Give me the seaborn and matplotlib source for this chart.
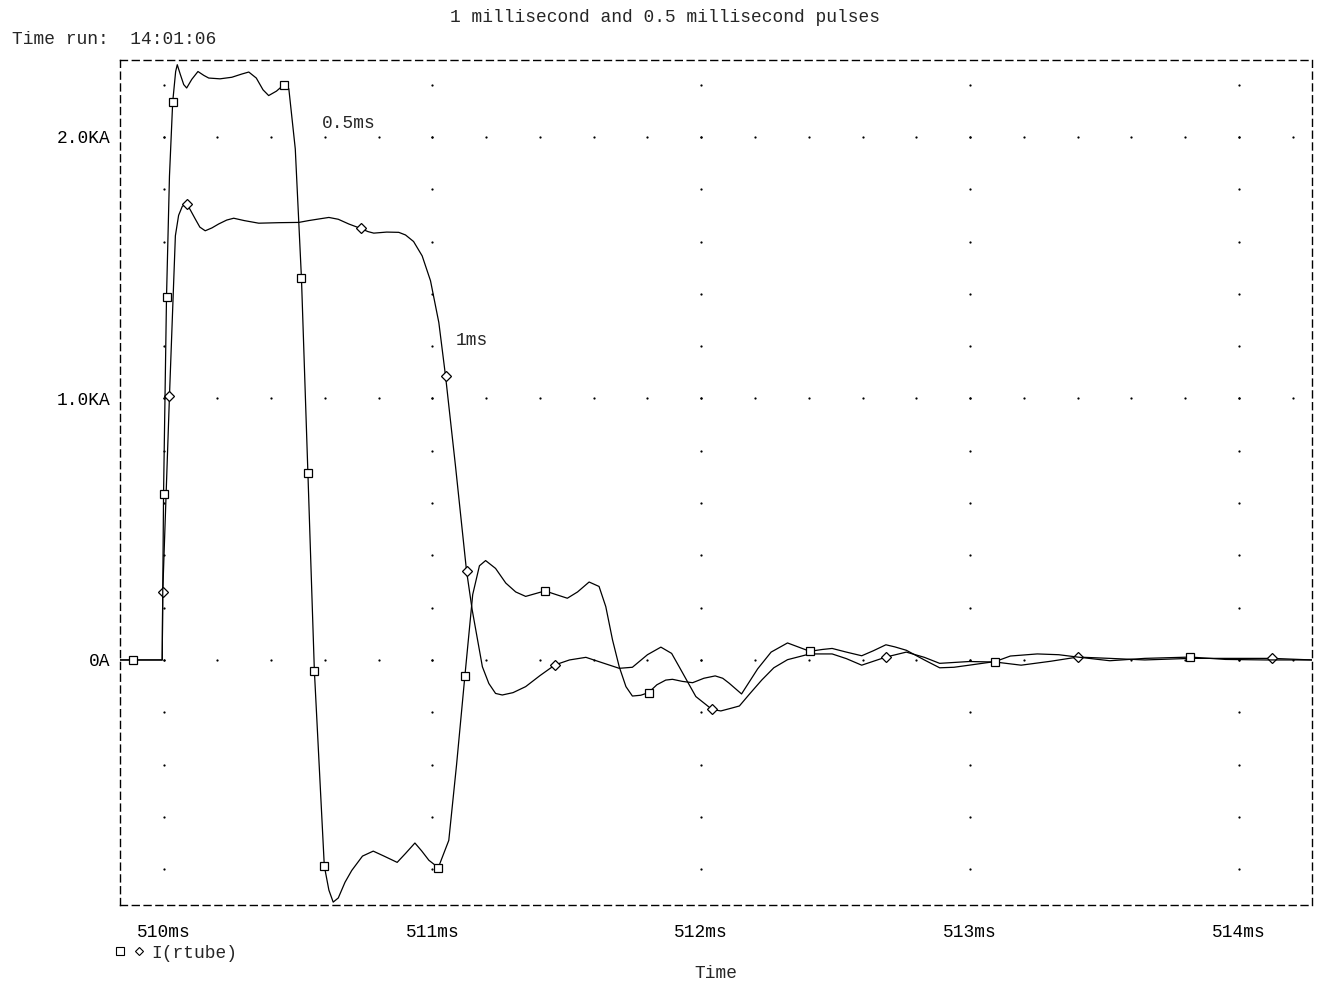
import numpy as np
import pandas as pd
import seaborn as sns
import matplotlib
matplotlib.use("Agg")
import matplotlib.pyplot as plt
from matplotlib.lines import Line2D
from matplotlib.legend_handler import HandlerTuple

# ---------------- data (time in ms, current in kA) ----------------
t_half = [509.838, 509.887, 509.995, 510.000, 510.011, 510.022, 510.034, 510.045, 510.051, 510.062,
          510.075, 510.086, 510.105, 510.128, 510.150, 510.168, 510.210, 510.254, 510.290, 510.317,
          510.345, 510.370, 510.391, 510.420, 510.447, 510.466, 510.490, 510.513, 510.537, 510.561,
          510.598, 510.615, 510.631, 510.650, 510.675, 510.700, 510.740, 510.780, 510.820, 510.869,
          510.900, 510.935, 510.960, 510.987, 511.022, 511.061, 511.090, 511.121, 511.150, 511.175,
          511.198, 511.235, 511.273, 511.310, 511.347, 511.419, 511.460, 511.502, 511.540, 511.583,
          511.620, 511.645, 511.670, 511.695, 511.720, 511.744, 511.775, 511.804, 511.835, 511.868,
          511.893, 511.930, 511.968, 512.010, 512.052, 512.080, 512.104, 512.150, 512.210, 512.260,
          512.321, 512.360, 512.404, 512.450, 512.487, 512.540, 512.597, 512.640, 512.687, 512.720,
          512.763, 512.830, 512.887, 512.940, 512.997, 513.094, 513.150, 513.250, 513.330, 513.400,
          513.520, 513.650, 513.820, 513.950, 514.100, 514.272]
i_half = [0.000, 0.000, 0.000, 0.636, 1.387, 1.850, 2.133, 2.250, 2.276, 2.240,
          2.200, 2.187, 2.220, 2.250, 2.235, 2.225, 2.222, 2.228, 2.240, 2.248,
          2.225, 2.180, 2.158, 2.175, 2.199, 2.184, 1.954, 1.459, 0.713, -0.041,
          -0.788, -0.880, -0.926, -0.910, -0.850, -0.805, -0.750, -0.731, -0.750, -0.774,
          -0.740, -0.700, -0.730, -0.766, -0.794, -0.690, -0.400, -0.060, 0.250, 0.360,
          0.380, 0.350, 0.294, 0.260, 0.243, 0.264, 0.250, 0.236, 0.260, 0.298,
          0.281, 0.204, 0.077, -0.026, -0.102, -0.138, -0.135, -0.125, -0.095, -0.077,
          -0.074, -0.082, -0.087, -0.070, -0.061, -0.070, -0.089, -0.130, -0.034, 0.030,
          0.065, 0.050, 0.033, 0.040, 0.044, 0.030, 0.016, 0.035, 0.058, 0.050,
          0.037, 0.000, -0.030, -0.028, -0.020, -0.006, 0.015, 0.023, 0.020, 0.011,
          -0.003, 0.006, 0.011, 0.002, 0.000, 0.000]
mark_half = [509.887, 510.000, 510.011, 510.034, 510.447, 510.513, 510.537, 510.561, 510.598,
             511.022, 511.121, 511.419, 511.804, 512.404, 513.094, 513.820]

t_one = [509.838, 509.995, 509.997, 510.022, 510.044, 510.056, 510.070, 510.087, 510.100, 510.118,
         510.135, 510.155, 510.180, 510.205, 510.235, 510.261, 510.300, 510.354, 510.430, 510.503,
         510.540, 510.577, 510.615, 510.650, 510.689, 510.733, 510.760, 510.782, 510.830, 510.875,
         510.900, 510.930, 510.962, 510.993, 511.024, 511.049, 511.086, 511.127, 511.148, 511.186,
         511.210, 511.235, 511.260, 511.300, 511.347, 511.400, 511.456, 511.510, 511.571, 511.630,
         511.695, 511.744, 511.800, 511.850, 511.890, 511.918, 511.950, 511.980, 512.040, 512.073,
         512.110, 512.142, 512.180, 512.225, 512.270, 512.321, 512.404, 512.487, 512.540, 512.597,
         512.687, 512.763, 512.830, 512.887, 512.997, 513.094, 513.190, 513.300, 513.400, 513.520,
         513.650, 513.820, 514.125, 514.272]
i_one = [0.000, 0.000, 0.259, 1.009, 1.622, 1.700, 1.735, 1.743, 1.720, 1.686,
         1.655, 1.641, 1.652, 1.667, 1.682, 1.689, 1.680, 1.670, 1.672, 1.673,
         1.680, 1.686, 1.692, 1.685, 1.667, 1.650, 1.638, 1.632, 1.636, 1.635,
         1.625, 1.600, 1.545, 1.450, 1.290, 1.085, 0.741, 0.341, 0.192, -0.026,
         -0.090, -0.128, -0.134, -0.125, -0.102, -0.060, -0.019, 0.000, 0.010, -0.010,
         -0.032, -0.028, 0.020, 0.049, 0.025, -0.026, -0.085, -0.140, -0.189, -0.195,
         -0.185, -0.176, -0.130, -0.077, -0.030, 0.001, 0.023, 0.023, 0.005, -0.020,
         0.011, 0.030, 0.010, -0.013, -0.006, -0.008, -0.020, -0.005, 0.011, 0.006,
         0.000, 0.006, 0.006, 0.000]
mark_one = [509.997, 510.022, 510.087, 510.733, 511.049, 511.127, 511.456, 512.040,
            512.687, 513.400, 514.125]

x_ticks = [510, 511, 512, 513, 514]
x_labels = ["510ms", "511ms", "512ms", "513ms", "514ms"]
y_ticks = [0.0, 1.0, 2.0]
y_labels = ["0A", "1.0KA", "2.0KA"]

title = "1 millisecond and 0.5 millisecond pulses"
run_text = "Time run:  14:01:06"
legend_label = "I(rtube)"
x_title = "Time"
ann_half = ("0.5ms", 510.589, 2.05)
ann_one = ("1ms", 511.088, 1.22)

# ---------------- style ----------------
sns.set_style("white")
MONO = ["Liberation Mono", "DejaVu Sans Mono", "DejaVu Sans"]
plt.rcParams["font.family"] = MONO
FS = 12.9

W, H = 1322, 988
fig = plt.figure(figsize=(W / 100, H / 100), dpi=100)
ax_l, ax_r, ax_t, ax_b = 120, 1312, 60, 905
ax = fig.add_axes([ax_l / W, 1 - ax_b / H, (ax_r - ax_l) / W, (ax_b - ax_t) / H])

df_half = pd.DataFrame({"t": t_half, "i": i_half})
df_one = pd.DataFrame({"t": t_one, "i": i_one})
idx_half = [t_half.index(v) for v in mark_half]
idx_one = [t_one.index(v) for v in mark_one]

sns.lineplot(data=df_one, x="t", y="i", ax=ax, sort=False, estimator=None,
             color="black", linewidth=0.9, marker="D", markersize=5.2,
             markerfacecolor="white", markeredgecolor="black", markeredgewidth=0.9,
             markevery=idx_one, zorder=3)
sns.lineplot(data=df_half, x="t", y="i", ax=ax, sort=False, estimator=None,
             color="black", linewidth=0.9, marker="s", markersize=6.2,
             markerfacecolor="white", markeredgecolor="black", markeredgewidth=0.9,
             markevery=idx_half, zorder=3)

xmin, xmax = 509.838, 514.272
ymin, ymax = -0.937, 2.294
ax.set_xlim(xmin, xmax)
ax.set_ylim(ymin, ymax)

# dotted grid: dots along major lines at minor spacing
minor_x = np.round(np.arange(510.0, 514.3, 0.2), 3)
minor_y = np.round(np.arange(-0.8, 2.3, 0.2), 3)
gx, gy = [], []
for xv in x_ticks:
    for yv in minor_y:
        gx.append(xv); gy.append(yv)
for yv in y_ticks:
    for xv in minor_x:
        gx.append(xv); gy.append(yv)
ax.scatter(gx, gy, s=2.6, color="black", linewidths=0, zorder=1)

ax.set_xticks(x_ticks)
ax.set_xticklabels(x_labels)
ax.set_yticks(y_ticks)
ax.set_yticklabels(y_labels)
ax.tick_params(axis="x", direction="out", length=4, width=0.9, pad=10, labelsize=FS, colors="black")
ax.tick_params(axis="y", direction="inout", length=6, width=0.9, pad=4, labelsize=FS, colors="black")
ax.set_xlabel("")
ax.set_ylabel("")

for sp in ax.spines.values():
    sp.set_visible(True)
    sp.set_color("black")
    sp.set_linewidth(1.0)
    sp.set_linestyle((0, (5, 3.5)))

ax.text(ann_half[1], ann_half[2], ann_half[0], fontsize=FS, ha="left", va="center")
ax.text(ann_one[1], ann_one[2], ann_one[0], fontsize=FS, ha="left", va="center")

fig.text(665 / W, 1 - 17 / H, title, fontsize=FS, ha="center", va="center")
fig.text(12 / W, 1 - 40 / H, run_text, fontsize=FS, ha="left", va="center")
fig.text(716 / W, 1 - 973 / H, x_title, fontsize=FS, ha="center", va="center")

h_sq = Line2D([], [], linestyle="none", marker="s", markersize=5.5, markerfacecolor="white",
              markeredgecolor="black", markeredgewidth=0.8)
h_di = Line2D([], [], linestyle="none", marker="D", markersize=4.2, markerfacecolor="white",
              markeredgecolor="black", markeredgewidth=0.8)
leg = ax.legend([(h_sq, h_di)], [legend_label],
                handler_map={tuple: HandlerTuple(ndivide=None, pad=0.6)},
                loc="center left", bbox_to_anchor=(-0.004, -0.057), frameon=False,
                fontsize=FS, handlelength=1.6, handletextpad=0.4, borderaxespad=0,
                borderpad=0)

fig.savefig("out.png", dpi=100, facecolor="white")
